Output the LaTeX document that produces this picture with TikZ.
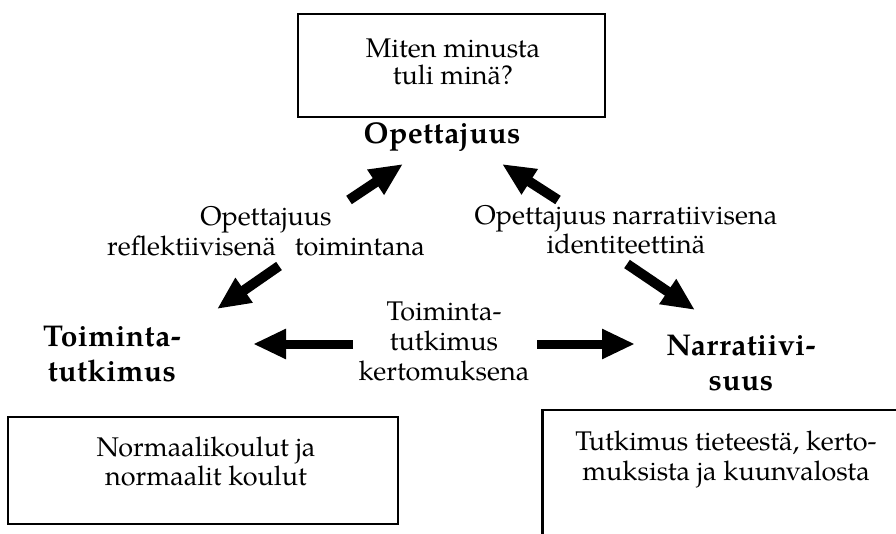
\documentclass[tikz,border=0pt]{standalone}
\usepackage{fontspec}
\setmainfont{TeX Gyre Pagella}
\newfontfamily\headfont[LetterSpace=1.5]{TeX Gyre Pagella}
\usetikzlibrary{arrows.meta}

\tikzset{
  frame/.style={draw, line width=2.5pt, inner sep=0pt},
  txt/.style={font=\fontsize{27}{29.5}\selectfont, align=center, anchor=base, inner sep=0pt},
  head/.style={font=\headfont\bfseries\fontsize{30}{35}\selectfont, align=center, anchor=base, inner sep=0pt},
  bigarrow/.style={line width=9pt, -{Triangle[length=33pt,width=28pt]}},
  slantarrow/.style={bigarrow, line width=10pt},
}

\begin{document}
\begin{tikzpicture}[x=1pt,y=-1pt]
\useasboundingbox (0,0) rectangle (896,534);

% framed boxes (text nodes are placed by the baseline of their last line)
\node[frame, minimum width=307pt, minimum height=103pt] (qbox) at (451.5,65.5) {};
\node[txt, font=\fontsize{27}{27}\selectfont] (question) at (453,85) {Miten minusta\\tuli minä?};

\node[frame, minimum width=390pt, minimum height=107pt] (schoolbox) at (203,470.5) {};
\node[txt, font=\fontsize{27}{28.5}\selectfont] (schools) at (206,485) {Normaalikoulut ja\\normaalit koulut};

% open frame running off the right and bottom edges
\coordinate (rb-foot) at (542.5,534);
\coordinate (rb-corner) at (542.5,410);
\coordinate (rb-edge) at (896,410);
\draw[line width=2.5pt] (rb-foot) -- (rb-corner) -- (rb-edge);
\node[txt, font=\fontsize{27}{30}\selectfont] (study) at (726,480) {Tutkimus tieteestä, kerto-\\muksista ja kuunvalosta};

% the three corners
\node[head] (teach) at (442,144) {Opettajuus};
\node[head] (action) at (112,381) {Toiminta-\\tutkimus};
\node[head] (narr) at (741,390) {Narratiivi-\\suus};

% relation labels
\node[txt, font=\fontsize{27}{30}\selectfont] (reflect) at (266,255.5) {Opettajuus\\reflektiivisenä\hspace{0.45em} toimintana};
\node[txt, font=\fontsize{27}{28.3}\selectfont] (ident) at (626,253.3) {Opettajuus narratiivisena\\identiteettinä};
\node[txt, font=\fontsize{27}{30}\selectfont] (story) at (444,380) {Toiminta-\\tutkimus\\kertomuksena};

% arrow ends
\coordinate (a1s) at (349,200);
\coordinate (a1e) at (403,164);
\coordinate (a2s) at (279,266);
\coordinate (a2e) at (217,309);
\coordinate (a3s) at (558,200);
\coordinate (a3e) at (502,164);
\coordinate (a4s) at (627,264);
\coordinate (a4e) at (695,310);
\coordinate (a5s) at (353,344);
\coordinate (a5e) at (253,344);
\coordinate (a6s) at (537,344);
\coordinate (a6e) at (635,344);

\draw[slantarrow] (a1s) -- (a1e);
\draw[slantarrow] (a2s) -- (a2e);
\draw[slantarrow] (a3s) -- (a3e);
\draw[slantarrow] (a4s) -- (a4e);
\draw[bigarrow] (a5s) -- (a5e);
\draw[bigarrow] (a6s) -- (a6e);
\end{tikzpicture}
\end{document}
